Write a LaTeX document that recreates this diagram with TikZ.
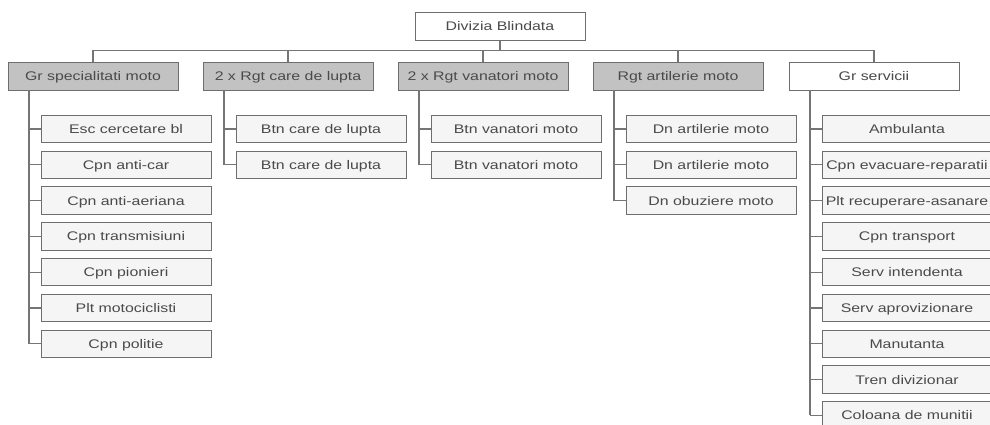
\documentclass[tikz,border=0pt]{standalone}
\usepackage{fontspec}
\newfontfamily\orgfont{Liberation Sans}[FakeStretch=1.27]
\usetikzlibrary{calc}
\definecolor{boxline}{HTML}{6E6E6E}
\definecolor{linkline}{HTML}{757575}
\definecolor{darkfill}{HTML}{C2C2C2}
\definecolor{lightfill}{HTML}{F5F5F5}
\definecolor{txt}{HTML}{4A4A4A}
\tikzset{
  orgbox/.style={draw=boxline, line width=1pt, minimum width=170pt, minimum height=28pt,
    inner sep=1pt, text height=9pt, text depth=0pt, text=txt,
    font=\orgfont\fontsize{12.5}{14}\selectfont},
  unitbox/.style={orgbox, fill=darkfill},
  plainbox/.style={orgbox, fill=white},
  subbox/.style={orgbox, fill=lightfill, minimum height=27.5pt},
  link/.style={draw=linkline, line width=1.1pt}
}
\begin{document}
\begin{tikzpicture}[x=1pt, y=-1pt]
\clip (0,0) rectangle (990,424);
\fill[white] (0,0) rectangle (990,424);

% top
\node[plainbox] (top) at (500,26) {Divizia Blindata};

% level 1
\node[unitbox]  (la) at (93,76)  {Gr specialitati moto};
\node[unitbox]  (lb) at (288,76) {2 x Rgt care de lupta};
\node[unitbox]  (lc) at (483,76) {2 x Rgt vanatori moto};
\node[unitbox]  (ld) at (678,76) {Rgt artilerie moto};
\node[plainbox] (le) at (874,76) {Gr servicii};

% bus
\draw[link] (top.south) -- ++(0,10) coordinate (bus);
\draw[link] (la.north) |- (bus) -| (le.north);
\foreach \nn in {lb,lc,ld} \draw[link] (bus -| \nn.north) -- (\nn.north);

% children
\foreach \pp/\cx/\list in {
  la/93/{Esc cercetare bl,Cpn anti-car,Cpn anti-aeriana,Cpn transmisiuni,Cpn pionieri,Plt motociclisti,Cpn politie},
  lb/288/{Btn care de lupta,Btn care de lupta},
  lc/483/{Btn vanatori moto,Btn vanatori moto},
  ld/678/{Dn artilerie moto,Dn artilerie moto,Dn obuziere moto},
  le/874/{Ambulanta,Cpn evacuare-reparatii,Plt recuperare-asanare,Cpn transport,Serv intendenta,Serv aprovizionare,Manutanta,Tren divizionar,Coloana de munitii}}{
  \coordinate (\pp v) at (\cx-64,90);
  \foreach \t [count=\k from 0] in \list {
    \node[subbox] (\pp c\k) at (\cx+33, 129+35.8*\k) {\t};
    \draw[link] (\pp v |- \pp c\k.west) -- (\pp c\k.west);
    \xdef\lastk{\k}
  }
  \draw[link] (\pp v) -- (\pp v |- \pp c\lastk.west);
}
\end{tikzpicture}
\end{document}
